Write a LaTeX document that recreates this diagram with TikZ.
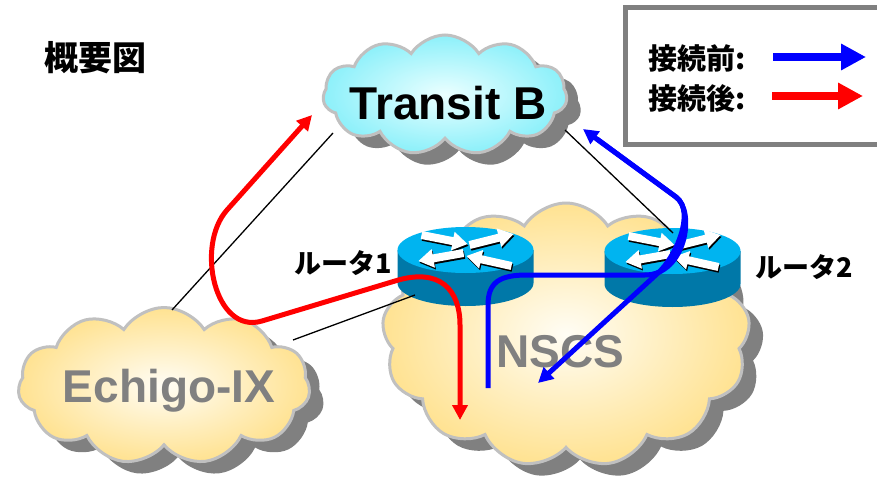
\documentclass[tikz,border=0pt]{standalone}
\usepackage{fontspec}
\setmainfont{Liberation Sans}
\newfontfamily\jp{Noto Sans CJK JP}
\usetikzlibrary{shapes.symbols,arrows.meta}
\definecolor{cloudedge}{RGB}{192,192,192}
\definecolor{shadowgray}{RGB}{128,128,128}
\definecolor{cyanout}{RGB}{140,240,250}
\definecolor{cyanin}{RGB}{235,255,255}
\definecolor{yelout}{RGB}{255,226,145}
\definecolor{yelin}{RGB}{255,253,245}
\definecolor{rtop}{RGB}{0,180,240}
\definecolor{rside}{RGB}{0,120,168}
\definecolor{pathblue}{RGB}{0,0,255}
\definecolor{pathred}{RGB}{255,0,0}
\definecolor{legendgray}{RGB}{128,128,128}
\definecolor{labelgray}{RGB}{128,128,128}
\tikzset{
  cloudshape/.style={cloud, cloud puffs=#1, cloud puff arc=115, cloud ignores aspect, inner sep=0pt},
  cloudshadow/.style={fill=shadowgray, draw=none},
  cyancloud/.style={draw=cloudedge, line width=3pt, inner color=cyanin, outer color=cyanout},
  yelcloud/.style={draw=cloudedge, line width=3pt, inner color=yelin, outer color=yelout},
  bigtxt/.style={font=\fontsize{46}{46}\selectfont\bfseries, inner sep=0pt, anchor=base},
  jptxt/.style={font=\jp\bfseries\fontsize{27}{27}\selectfont, inner sep=0pt, anchor=base},
  thinline/.style={black, line width=1.3pt},
  bluepath/.style={pathblue, line width=5pt, >={Triangle[length=15pt,width=15pt]}},
  redpath/.style={pathred, line width=5pt, >={Triangle[length=15pt,width=15pt]}},
}
\newcommand{\routerglyphs}{%
  \fill (-44.77,-11.07) -- (-13.49,-4.95) -- (-14.54,0.44) -- (2,-6) -- (-10.90,-18.20) -- (-11.95,-12.81) -- (-43.23,-18.93) -- cycle;
  \fill (4.97,-1.12) -- (34.42,-8.48) -- (35.75,-3.14) -- (48,-16) -- (31.15,-21.58) -- (32.48,-16.24) -- (3.03,-8.88) -- cycle;
  \fill (-2.70,-0.94) -- (-32.93,4.43) -- (-33.89,-0.98) -- (-47,11) -- (-30.57,17.72) -- (-31.53,12.31) -- (-1.30,6.94) -- cycle;
  \fill (46.87,12.10) -- (16.51,5.35) -- (17.70,-0.02) -- (1,6) -- (13.58,18.52) -- (14.77,13.15) -- (45.13,19.90) -- cycle;
}
\newcommand{\drawrouter}[2]{%
  \begin{scope}[shift={(#1,#2)}]
    \fill[rside] (-68,0) -- (-68,33) arc[start angle=180,end angle=360,x radius=68pt,y radius=23pt] -- (68,0) -- cycle;
    \fill[rtop] (0,0) ellipse[x radius=68pt,y radius=23pt];
    \begin{scope}[shift={(1,1.8)}, black]\routerglyphs\end{scope}
    \begin{scope}[white]\routerglyphs\end{scope}
  \end{scope}}
\begin{document}
\begin{tikzpicture}[x=1pt,y=-1pt]
\clip (0,0) rectangle (877,481);
\fill[white] (0,0) rectangle (877,481);

% cloud shadows
\node[cloudshape=11, cloudshadow, minimum width=244pt, minimum height=120pt] (tbshadow) at (459,107) {};
\node[cloudshape=11, cloudshadow, minimum width=292pt, minimum height=157pt] (eishadow) at (178,398) {};
\node[cloudshape=13, cloudshadow, minimum width=368pt, minimum height=264pt] (nsshadow) at (580,347) {};

% clouds
\node[cloudshape=11, cyancloud, minimum width=244pt, minimum height=120pt] (tb) at (445,95) {};
\node[cloudshape=11, yelcloud, minimum width=292pt, minimum height=157pt] (ei) at (164,386) {};
\node[cloudshape=13, yelcloud, minimum width=368pt, minimum height=264pt] (ns) at (566,335) {};

% cloud labels
\node[bigtxt] (tblabel) at (448,120) {Transit B};
\node[bigtxt, text=labelgray] (eilabel) at (169,402) {Echigo-IX};
\node[bigtxt, text=labelgray] (nslabel) at (560,367) {NSCS};

% routers
\drawrouter{465.5}{250}
\drawrouter{672.5}{251}

% router labels
\node[jptxt] (r1label) at (343,273) {ルータ1};
\node[jptxt] (r2label) at (804,277) {ルータ2};

% title
\node[font=\jp\bfseries\fontsize{34}{34}\selectfont, inner sep=0pt] (title) at (95,58) {概要図};

% anchor points for connectors
\coordinate (tbsw) at (333,133);
\coordinate (eitop) at (172,310);
\coordinate (r1side) at (415,295);
\coordinate (eiright) at (293,340);
\coordinate (tbse) at (565,130);
\coordinate (r2top) at (673,233);

% thin links
\draw[thinline] (tbsw) -- (eitop);
\draw[thinline] (r1side) -- (eiright);
\draw[thinline] (tbse) -- (r2top);

% traffic paths
\coordinate (redtb) at (312,115);
\coordinate (redns) at (460,420);
\coordinate (bluens) at (488,388);
\coordinate (bluetb) at (583,129);
\coordinate (bluestart) at (597,139);
\coordinate (bluens2) at (538,383);

\draw[redpath, <->] (redtb) -- (227,210)
  .. controls (195,246) and (215,335) .. (262,321)
  -- (395,281) .. controls (440,267) and (460,290) .. (460,325) -- (redns);

\draw[bluepath, ->] (bluens) -- (488,305)
  .. controls (488,282) and (500,275) .. (527,275) -- (645,275)
  .. controls (685,275) and (696,212) .. (676,197) -- (bluetb);
\draw[bluepath, ->] (bluestart) -- (676,197)
  .. controls (696,212) and (675,258) .. (658,273) -- (bluens2);

% legend
\draw[legendgray, line width=5pt] (625.5,7.5) rectangle (900,144.5);
\node[font=\jp\bfseries\fontsize{29}{29}\selectfont, inner sep=0pt, anchor=west] (lgbefore) at (648,59) {接続前:};
\node[font=\jp\bfseries\fontsize{29}{29}\selectfont, inner sep=0pt, anchor=west] (lgafter) at (648,98) {接続後:};
\coordinate (lgb1) at (773,57);
\coordinate (lgb2) at (866,57);
\coordinate (lgr1) at (772,96);
\coordinate (lgr2) at (863,96);
\draw[pathblue, line width=8pt, -{Triangle[length=25pt,width=25pt]}] (lgb1) -- (lgb2);
\draw[pathred, line width=8pt, -{Triangle[length=25pt,width=25pt]}] (lgr1) -- (lgr2);
\end{tikzpicture}
\end{document}
